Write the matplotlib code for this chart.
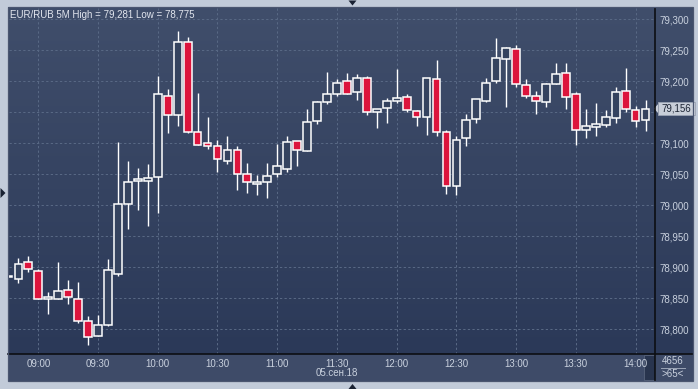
import matplotlib
matplotlib.use("Agg")
import matplotlib.pyplot as plt
import numpy as np
import pandas as pd
from matplotlib.patches import Rectangle, Polygon
from matplotlib.lines import Line2D
from matplotlib.transforms import blended_transform_factory
from matplotlib.ticker import FuncFormatter

# ---------------- data ----------------
start_time = "2018-09-05 08:45"
opens = [78.884, 78.881, 78.908, 78.894, 78.849, 78.849, 78.863, 78.849, 78.813, 78.789,
         78.807, 78.889, 79.002, 79.039, 79.040, 79.045, 79.177, 79.146, 79.263, 79.118,
         79.100, 79.095, 79.071, 79.090, 79.050, 79.035, 79.037, 79.050, 79.059, 79.103,
         79.087, 79.136, 79.166, 79.179, 79.200, 79.182, 79.205, 79.150, 79.157, 79.168,
         79.174, 79.152, 79.142, 79.203, 79.119, 79.031, 79.108, 79.139, 79.169, 79.200,
         79.236, 79.252, 79.194, 79.177, 79.166, 79.196, 79.213, 79.179, 79.121, 79.126,
         79.129, 79.140, 79.184, 79.153, 79.137]
highs = [78.886, 78.915, 78.918, 78.898, 78.860, 78.909, 78.880, 78.876, 78.821, 78.823,
         78.913, 79.102, 79.072, 79.060, 79.066, 79.209, 79.188, 79.281, 79.271, 79.181,
         79.142, 79.105, 79.111, 79.096, 79.068, 79.049, 79.068, 79.099, 79.112, 79.103,
         79.155, 79.168, 79.215, 79.204, 79.213, 79.212, 79.208, 79.155, 79.173, 79.220,
         79.179, 79.153, 79.205, 79.234, 79.121, 79.111, 79.148, 79.171, 79.205, 79.270,
         79.255, 79.258, 79.203, 79.184, 79.198, 79.230, 79.230, 79.182, 79.156, 79.165,
         79.154, 79.190, 79.221, 79.160, 79.170]
lows = [78.884, 78.874, 78.893, 78.849, 78.825, 78.849, 78.841, 78.811, 78.775, 78.789,
        78.805, 78.886, 78.961, 78.992, 78.967, 78.987, 79.116, 79.128, 79.117, 79.098,
        79.091, 79.054, 79.066, 79.025, 79.020, 79.017, 79.012, 79.046, 79.053, 79.064,
        79.087, 79.131, 79.164, 79.177, 79.179, 79.170, 79.145, 79.124, 79.133, 79.165,
        79.150, 79.128, 79.114, 79.112, 79.018, 79.016, 79.095, 79.132, 79.166, 79.197,
        79.158, 79.190, 79.173, 79.147, 79.158, 79.196, 79.156, 79.098, 79.108, 79.111,
        79.126, 79.133, 79.151, 79.127, 79.120]
closes = [78.886, 78.905, 78.897, 78.849, 78.852, 78.861, 78.852, 78.813, 78.787, 78.807,
          78.895, 79.002, 79.037, 79.042, 79.044, 79.179, 79.145, 79.263, 79.118, 79.098,
          79.095, 79.074, 79.089, 79.050, 79.037, 79.038, 79.047, 79.063, 79.102, 79.089,
          79.134, 79.166, 79.179, 79.198, 79.179, 79.205, 79.150, 79.155, 79.169, 79.173,
          79.153, 79.142, 79.205, 79.118, 79.031, 79.105, 79.137, 79.171, 79.198, 79.237,
          79.253, 79.195, 79.176, 79.168, 79.195, 79.211, 79.175, 79.121, 79.128, 79.131,
          79.142, 79.182, 79.155, 79.136, 79.156]
x_tick_labels = ["09:00", "09:30", "10:00", "10:30", "11:00", "11:30",
                 "12:00", "12:30", "13:00", "13:30", "14:00"]
y_ticks = [78.80, 78.85, 78.90, 78.95, 79.00, 79.05, 79.10, 79.15, 79.20, 79.25, 79.30]
title = "EUR/RUB 5M High = 79,281 Low = 78,775"
date_label = "05.сен.18"
volume_text = "4656"
count_text = ">65<"

# ---------------- layout ----------------
W, H = 698, 389
fig = plt.figure(figsize=(W / 100, H / 100), dpi=100)
fig.patch.set_facecolor('#c2cbd9')
FONT = 'Liberation Sans'
TXT = '#c9d1de'

def fr(x0, y0, x1, y1):
    return [x0 / W, 1 - y1 / H, (x1 - x0) / W, (y1 - y0) / H]

def P(x, y):
    return (x / W, 1 - y / H)

# bottom time panel (drawn beneath all axes)
fig.patches.append(Rectangle(P(8, 381), 685 / W, 27 / H, transform=fig.transFigure,
                             facecolor='#3e4b68', edgecolor='none', zorder=-2))
fig.patches.append(Rectangle(P(644, 380), 11 / W, 25 / H, transform=fig.transFigure,
                             facecolor='#28344e', edgecolor='#58647c', linewidth=0.6, zorder=-1))

# gradient background (plot + right scale)
bg = fig.add_axes(fr(8, 7, 693, 354))
bg.set_zorder(-3)
grad = np.linspace(0, 1, 256).reshape(-1, 1)
top_c = np.array([64, 78, 107]) / 255
bot_c = np.array([43, 57, 88]) / 255
img = top_c[None, None, :] * (1 - grad[:, :, None]) + bot_c[None, None, :] * grad[:, :, None]
bg.imshow(img, aspect='auto', extent=[0, 1, 0, 1])
bg.set_axis_off()

# main axes
ax = fig.add_axes(fr(8.5, 8, 655, 354))
ax.patch.set_alpha(0)

times = pd.date_range(start_time, periods=len(opens), freq="5min")
base = pd.Timestamp("2018-09-05 09:00")
xm = np.array([(t - base).total_seconds() / 60 for t in times])

o = np.array(opens); c = np.array(closes); h = np.array(highs); l = np.array(lows)
up = c >= o
red = '#dc143c'

ax.vlines(xm, l, h, color='white', linewidth=1.0, zorder=3)
body_bottom = np.minimum(o, c)
body_h = np.maximum(np.abs(c - o), 0.0015)
ax.bar(xm[up], body_h[up], bottom=body_bottom[up], width=3.9,
       facecolor='#35435f', edgecolor='white', linewidth=1.1, zorder=4)
ax.bar(xm[~up], body_h[~up], bottom=body_bottom[~up], width=3.9,
       facecolor=red, edgecolor='white', linewidth=1.1, zorder=4)

px_per_min = 1.991
x09 = 38.3
ax.set_xlim((8.5 - x09) / px_per_min, (655 - x09) / px_per_min)
ax.set_ylim(78.7602, 79.3182)

last = closes[-1]

def yfmt(v, p):
    if abs(v - 79.15) < 1e-6:
        return ""  # hidden behind the current-price marker
    return f"{v:.3f}".replace('.', ',')

ax.set_xticks(np.arange(0, 301, 30))
ax.set_xticklabels(x_tick_labels)
ax.set_yticks(y_ticks)
ax.yaxis.set_major_formatter(FuncFormatter(yfmt))
ax.yaxis.tick_right()
ax.tick_params(axis='x', length=0, pad=3.5, labelsize=7, labelcolor=TXT)
ax.tick_params(axis='y', length=0, pad=3, labelsize=7, labelcolor=TXT)
for lab in ax.get_xticklabels() + ax.get_yticklabels():
    lab.set_fontfamily(FONT)
for s in ax.spines.values():
    s.set_visible(False)
ax.grid(True, color='#586884', linestyle=(0, (2.2, 2.2)), linewidth=0.75, zorder=0)
ax.set_axisbelow(True)

# separator lines
fig.lines.append(Line2D([P(655, 0)[0]] * 2, [P(0, 8)[1], P(0, 381)[1]],
                        transform=fig.transFigure, color='#0c0e13', linewidth=1.2, zorder=5))
fig.lines.append(Line2D([P(8, 0)[0], P(693, 0)[0]], [P(0, 354)[1]] * 2,
                        transform=fig.transFigure, color='#0c0e13', linewidth=1.2, zorder=5))
fig.patches.append(Rectangle(P(8, 381), 685 / W, 374 / H, transform=fig.transFigure,
                             facecolor='none', edgecolor='#4b5670', linewidth=0.9, zorder=6))

# title
fig.text(10 / W, 1 - 14.5 / H, title, color='#e2e6ee', fontsize=7, fontfamily=FONT,
         va='center', ha='left')

# current price marker
tr = blended_transform_factory(ax.transAxes, ax.transData)
bx0 = (658 - 8.5) / 646.5
bx1 = (695 - 8.5) / 646.5
hh = 6.3 / 620
ax.add_patch(Rectangle((bx0, last - hh), bx1 - bx0, 2 * hh, transform=tr,
                       facecolor='#c8ced8', edgecolor='#9aa3b3', linewidth=0.6,
                       clip_on=False, zorder=7))
ax.add_patch(Polygon([(bx0, last - hh * 0.7), (bx0, last + hh * 0.7),
                      ((654 - 8.5) / 646.5, last)], closed=True, transform=tr,
                     facecolor='#c8ced8', edgecolor='none', clip_on=False, zorder=7))
ax.text((bx0 + bx1) / 2, last, f"{last:.3f}".replace('.', ','), transform=tr,
        ha='center', va='center', fontsize=7, color='#1c2434', fontfamily=FONT,
        zorder=8, clip_on=False)

# date label
fig.text(337 / W, 1 - 373.5 / H, date_label, color=TXT, fontsize=7,
         fontfamily=FONT, ha='center', va='center')

# bottom-right counters
fig.text(673 / W, 1 - 361.5 / H, volume_text, color=TXT, fontsize=7,
         fontfamily=FONT, ha='center', va='center')
fig.lines.append(Line2D([P(661, 0)[0], P(685, 0)[0]], [P(0, 367.5)[1]] * 2,
                        transform=fig.transFigure, color='#9aa4b6', linewidth=0.7))
fig.text(673 / W, 1 - 374 / H, count_text, color=TXT, fontsize=7,
         fontfamily=FONT, ha='center', va='center')

# small navigation triangles
tri_c = '#1a2233'
for pts in ([(348.5, 0.5), (356.5, 0.5), (352.5, 5.5)],
            [(0.5, 188), (0.5, 198), (5.5, 193)],
            [(348.5, 389), (356.5, 389), (352.5, 384)]):
    fig.patches.append(Polygon([P(*p) for p in pts], closed=True, transform=fig.transFigure,
                               facecolor=tri_c, edgecolor='none', zorder=9))

fig.savefig("out.png", dpi=100, facecolor=fig.get_facecolor())
